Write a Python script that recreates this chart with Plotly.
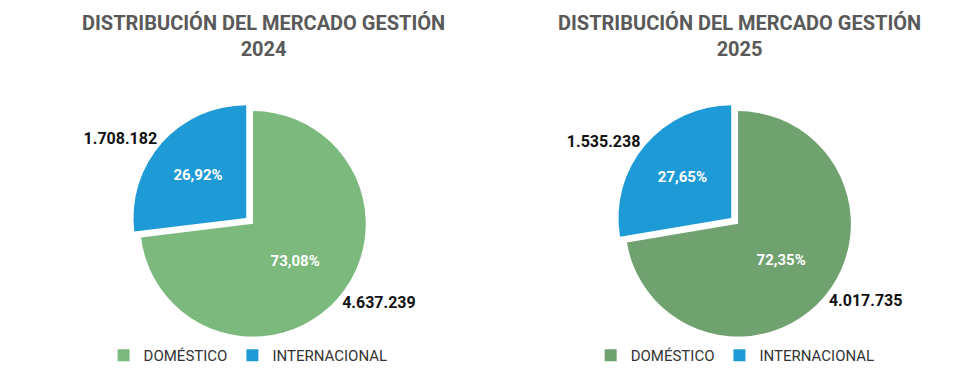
import plotly.graph_objects as go

categories = ["DOMÉSTICO", "INTERNACIONAL"]
values_2024 = [4637239, 1708182]
values_2025 = [4017735, 1535238]
titles = ["DISTRIBUCIÓN DEL MERCADO GESTIÓN<br>2024", "DISTRIBUCIÓN DEL MERCADO GESTIÓN<br>2025"]

colors_2024 = ["#7cb97c", "#1e9ad6"]
colors_2025 = ["#70a270", "#1e9ad6"]
pull = [0, 0.08]
font = "Roboto"

fig = go.Figure()

def add_pie(labels, vals, colors, domain_x, legend_name):
    dom = dict(x=domain_x, y=[0.085, 0.745])
    fig.add_trace(go.Pie(
        labels=labels, values=vals, sort=False, direction="clockwise", rotation=0,
        pull=pull, domain=dom, marker=dict(colors=colors, line=dict(color="white", width=0)),
        texttemplate="%{percent:.2%}", textposition="inside", insidetextorientation="horizontal",
        textfont=dict(family=font, size=15, color="white", weight="bold"),
        legend=legend_name, hoverinfo="label+value+percent",
    ))
    fig.add_trace(go.Pie(
        labels=labels, values=vals, sort=False, direction="clockwise", rotation=0,
        pull=pull, domain=dom, marker=dict(colors=["rgba(0,0,0,0)"] * 2),
        texttemplate="%{value:,}", textposition="outside",
        textfont=dict(family=font, size=16, color="#111", weight="bold"),
        showlegend=False, hoverinfo="skip", legend=legend_name,
    ))

labels_2025 = [c + "\u200b" for c in categories]
add_pie(categories, values_2024, colors_2024, [0.03, 0.47], "legend")
add_pie(labels_2025, values_2025, colors_2025, [0.525, 0.965], "legend2")

legend_style = dict(orientation="h", xanchor="center", yanchor="middle", y=0.058,
                    font=dict(family=font, size=15, color="#333"), bgcolor="rgba(0,0,0,0)",
                    itemwidth=30, traceorder="normal")
title_font = dict(family=font, size=20, color="#595959", weight="bold")
fig.update_layout(
    width=980, height=369, margin=dict(l=0, r=0, t=0, b=0, autoexpand=False),
    paper_bgcolor="white", plot_bgcolor="white",
    separators=",.",
    legend=dict(x=0.245, **legend_style),
    legend2=dict(x=0.742, **legend_style),
    annotations=[
        dict(text=titles[0], x=0.261, y=0.997, xref="paper", yref="paper", showarrow=False,
             xanchor="center", yanchor="top", font=title_font),
        dict(text=titles[1], x=0.746, y=0.997, xref="paper", yref="paper", showarrow=False,
             xanchor="center", yanchor="top", font=title_font),
    ],
)

fig.write_html("out.html")
